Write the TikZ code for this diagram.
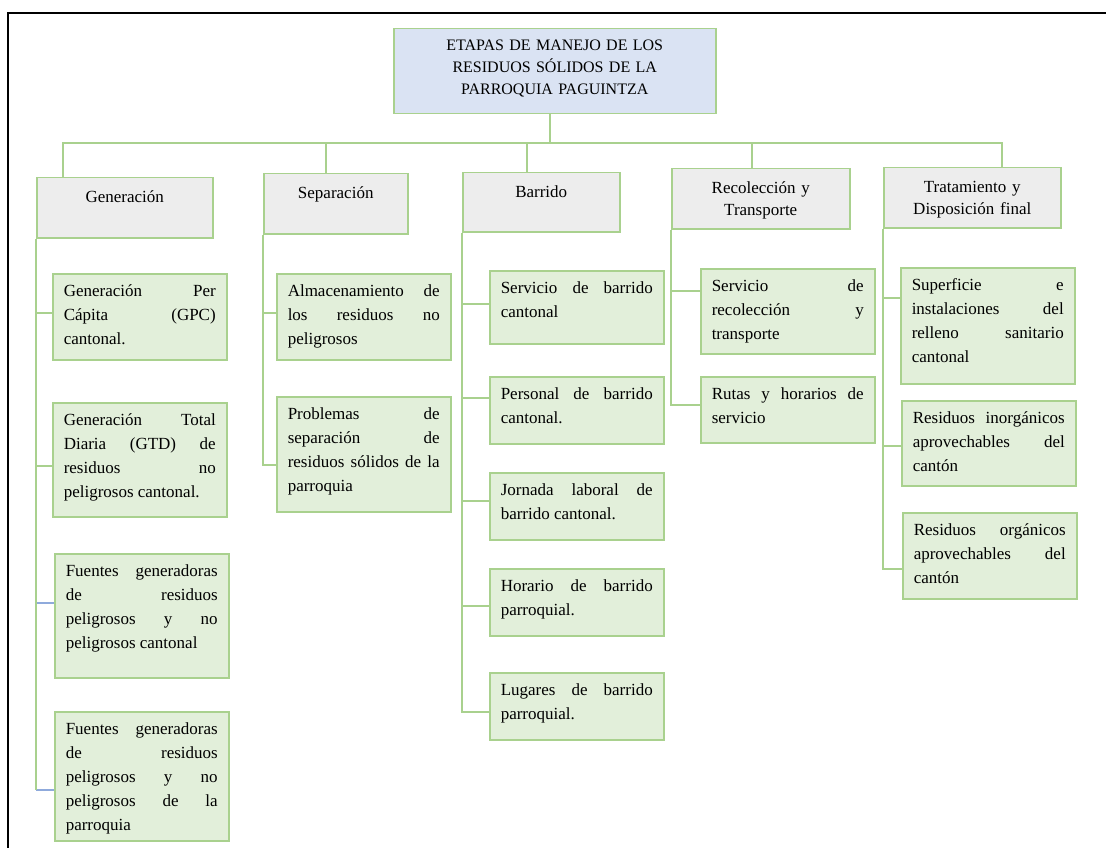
\documentclass[tikz,border=0pt]{standalone}
\usepackage{fontspec}
\setmainfont{Liberation Serif}
\tolerance=9999 \hbadness=10000 \hyphenpenalty=10000

\definecolor{verde}{HTML}{A9D18E}
\definecolor{verdeclaro}{HTML}{E2EFDA}
\definecolor{gris}{HTML}{EDEDED}
\definecolor{celeste}{HTML}{DAE3F3}
\definecolor{azulclaro}{HTML}{8FAADC}

\begin{document}
\begin{tikzpicture}[x=1pt, y=-1pt,
    caja/.style={draw=verde, line width=1.5pt, anchor=north west, inner ysep=0pt, text=black},
    etapa/.style={caja, fill=gris, inner xsep=0pt, align=center,
      font=\fontsize{17pt}{22pt}\selectfont, text height=25pt, text depth=35pt},
    hoja/.style={caja, fill=verdeclaro, text width=152pt, inner xsep=11pt, align=justify,
      font=\fontsize{17pt}{24pt}\selectfont, text height=23pt, text depth=#1},
    conector/.style={draw=verde, line width=1.5pt},
    conectorazul/.style={draw=azulclaro, line width=1.5pt}]
    \useasboundingbox (0,0) rectangle (1106,848);

    % marco
    \draw[line width=2.8pt] (8,848) -- (8,13) -- (1106,13);

    % título
    \node[caja, fill=celeste, text width=322pt, inner xsep=0pt, align=center,
      font=\fontsize{16pt}{22pt}\selectfont, text height=22pt, text depth=63pt] (titulo) at (393,28)
      {ETAPAS DE MANEJO DE LOS\\RESIDUOS SÓLIDOS DE LA\\PARROQUIA PAGUINTZA};

    % etapas
    \node[etapa, text width=176pt] (gen) at (36,177) {Generación};
    \node[etapa, text width=144pt] (sep) at (263,173) {Separación};
    \node[etapa, text width=157pt, text depth=34pt] (bar) at (462,172) {Barrido};
    \node[etapa, text width=178pt] (rec) at (671,168) {Recolección y\\Transporte};
    \node[etapa, text width=177pt] (tra) at (883,167) {Tratamiento y\\Disposición final};

    % Generación
    \node[hoja=63pt] (g1) at (52,273) {Generación Per\linebreak Cápita (GPC)\linebreak cantonal.};
    \node[hoja=91pt] (g2) at (52,402) {Generación Total\linebreak Diaria (GTD) de\linebreak residuos no\linebreak peligrosos cantonal.};
    \node[hoja=101pt] (g3) at (54,553) {Fuentes generadoras\linebreak de residuos\linebreak peligrosos y no\linebreak peligrosos cantonal};
    \node[hoja=106pt] (g4) at (54,711) {Fuentes generadoras\linebreak de residuos\linebreak peligrosos y no\linebreak peligrosos de la\linebreak parroquia};

    % Separación
    \node[hoja=63pt] (s1) at (276,273) {Almacenamiento de\linebreak los residuos no\linebreak peligrosos};
    \node[hoja=92pt] (s2) at (276,396) {Problemas de\linebreak separación de\linebreak residuos sólidos de la\linebreak parroquia};

    % Barrido
    \node[hoja=50pt] (b1) at (489,270) {Servicio de barrido\linebreak cantonal};
    \node[hoja=44pt] (b2) at (489,376) {Personal de barrido\linebreak cantonal.};
    \node[hoja=44pt] (b3) at (489,472) {Jornada laboral de\linebreak barrido cantonal.};
    \node[hoja=44pt] (b4) at (489,568) {Horario de barrido\linebreak parroquial.};
    \node[hoja=44pt] (b5) at (489,672) {Lugares de barrido\linebreak parroquial.};

    % Recolección y Transporte
    \node[hoja=62pt] (r1) at (700,268) {Servicio de\linebreak recolección y\linebreak transporte};
    \node[hoja=43pt] (r2) at (700,376) {Rutas y horarios de\linebreak servicio};

    % Tratamiento y Disposición final
    \node[hoja=93pt] (t1) at (900,267) {Superficie e\linebreak instalaciones del\linebreak relleno sanitario\linebreak cantonal};
    \node[hoja=62pt] (t2) at (901,400) {Residuos inorgánicos\linebreak aprovechables del\linebreak cantón};
    \node[hoja=63pt] (t3) at (902,512) {Residuos orgánicos\linebreak aprovechables del\linebreak cantón};

    % conectores del título
    \coordinate (barra) at (550,143);
    \draw[conector] (barra |- titulo.south) -- (barra);
    \draw[conector] ([xshift=27pt]gen.north west) |- (barra) -| ([xshift=119pt]tra.north west);
    \draw[conector] ([xshift=63pt]sep.north west) -- ([xshift=63pt]sep.north west |- barra);
    \draw[conector] ([xshift=65pt]bar.north west) -- ([xshift=65pt]bar.north west |- barra);
    \draw[conector] ([xshift=81pt]rec.north west) -- ([xshift=81pt]rec.north west |- barra);

    % conectores de Generación
    \coordinate (g3c) at ([yshift=13pt]g3.west);
    \coordinate (g4c) at ([yshift=-13.5pt]g4.west);
    \draw[conectorazul] (gen.south west |- g3c) -- (g3c);
    \draw[conectorazul] (gen.south west |- g4c) -- (g4c);
    \draw[conector] (gen.south west) -- (gen.south west |- g4c);
    \draw[conector] (gen.south west) |- ([yshift=4pt]g1.west);
    \draw[conector] (gen.south west) |- ([yshift=-6pt]g2.west);

    % conectores de Separación
    \draw[conector] (sep.south west) |- ([yshift=4pt]s1.west);
    \draw[conector] (sep.south west) |- ([yshift=-10.5pt]s2.west);

    % conectores de Barrido
    \draw[conector] (bar.south west) |- ([yshift=3.5pt]b1.west);
    \draw[conector] (bar.south west) |- ([yshift=12.5pt]b2.west);
    \draw[conector] (bar.south west) |- ([yshift=5.5pt]b3.west);
    \draw[conector] (bar.south west) |- ([yshift=-3.5pt]b4.west);
    \draw[conector] (bar.south west) |- ([yshift=-5.5pt]b5.west);

    % conectores de Recolección
    \draw[conector] (rec.south west) |- ([yshift=20.5pt]r1.west);
    \draw[conector] (rec.south west) |- ([yshift=5pt]r2.west);

    % conectores de Tratamiento
    \draw[conector] (tra.south west) |- ([yshift=28pt]t1.west);
    \draw[conector] (tra.south west) |- ([yshift=-2.5pt]t2.west);
    \draw[conector] (tra.south west) |- ([yshift=-13pt]t3.west);

\end{tikzpicture}
\end{document}
